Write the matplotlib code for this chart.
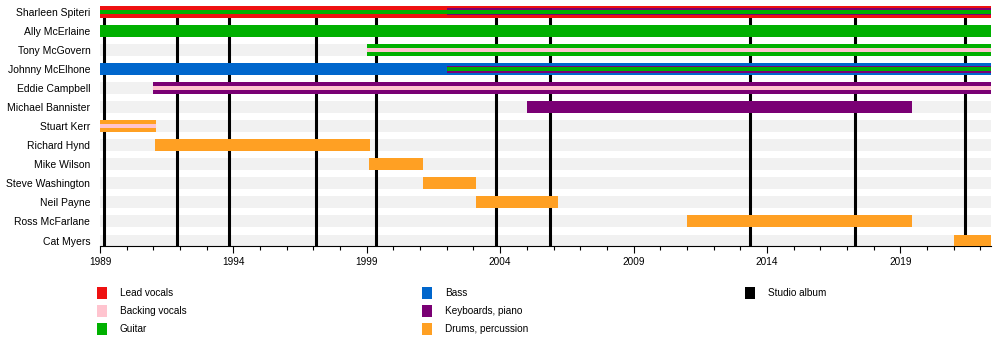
import matplotlib
matplotlib.use("Agg")
import matplotlib.pyplot as plt
from matplotlib.patches import Rectangle
from matplotlib.ticker import MultipleLocator

plt.rcParams['font.family'] = ['Liberation Sans', 'DejaVu Sans']

# band members, top to bottom
members = ["Sharleen Spiteri", "Ally McErlaine", "Tony McGovern", "Johnny McElhone",
           "Eddie Campbell", "Michael Bannister", "Stuart Kerr", "Richard Hynd",
           "Mike Wilson", "Steve Washington", "Neil Payne", "Ross McFarlane", "Cat Myers"]

start_year = 1989
end_year = 2022.4

# (member, role, start, end); first role of a member is the full-width bar
periods = [
    ("Sharleen Spiteri", "Lead vocals", 1989, end_year),
    ("Sharleen Spiteri", "Keyboards, piano", 2002.0, end_year),
    ("Sharleen Spiteri", "Guitar", 1989, end_year),
    ("Ally McErlaine", "Guitar", 1989, end_year),
    ("Tony McGovern", "Guitar", 1999.0, end_year),
    ("Tony McGovern", "Backing vocals", 1999.0, end_year),
    ("Johnny McElhone", "Bass", 1989, end_year),
    ("Johnny McElhone", "Keyboards, piano", 2002.0, end_year),
    ("Johnny McElhone", "Guitar", 2002.0, end_year),
    ("Eddie Campbell", "Keyboards, piano", 1991.0, end_year),
    ("Eddie Campbell", "Backing vocals", 1991.0, end_year),
    ("Michael Bannister", "Keyboards, piano", 2005.0, 2019.45),
    ("Stuart Kerr", "Drums, percussion", 1989, 1991.1),
    ("Stuart Kerr", "Backing vocals", 1989, 1991.1),
    ("Richard Hynd", "Drums, percussion", 1991.05, 1999.12),
    ("Mike Wilson", "Drums, percussion", 1999.1, 2001.1),
    ("Steve Washington", "Drums, percussion", 2001.1, 2003.1),
    ("Neil Payne", "Drums, percussion", 2003.1, 2006.15),
    ("Ross McFarlane", "Drums, percussion", 2011.0, 2019.45),
    ("Cat Myers", "Drums, percussion", 2021.0, end_year),
]

# studio album release dates
albums = [1989.15, 1991.88, 1993.84, 1997.08, 1999.35, 2003.85, 2005.85,
          2013.38, 2017.3, 2021.42]

role_colors = {
    "Lead vocals": "#ee1111",
    "Backing vocals": "#ffc4cf",
    "Guitar": "#00b000",
    "Bass": "#0066cc",
    "Keyboards, piano": "#7a0074",
    "Drums, percussion": "#ffa023",
    "Studio album": "#000000",
}

row_px = 19.08
full_h = 12.0 / row_px
mid_h = 7.0 / row_px
thin_h = 4.0 / row_px

fig = plt.figure(figsize=(10, 3.45), dpi=100)
ax = fig.add_axes([0.100, 99 / 345, 0.891, 242 / 345])

ypos = {m: i for i, m in enumerate(members)}
y_bottom = 12 + 5.5 / row_px

# light grey background rows
for m in members:
    ax.barh(ypos[m], end_year - start_year, left=start_year, height=full_h,
            color="#f1f1f1", zorder=1, linewidth=0)

ax.vlines(albums, 0, y_bottom, color="black", linewidth=2.2, zorder=2)

first_role = {}
for m, role, s, e in periods:
    if m not in first_role:
        first_role[m] = role
    if role == first_role[m]:
        h, z = full_h, 3
    elif role == "Keyboards, piano":
        h, z = mid_h, 4
    else:
        h, z = thin_h, 5
    ax.barh(ypos[m], e - s, left=s, height=h, color=role_colors[role],
            zorder=z, linewidth=0)

ax.set_xlim(start_year, end_year)
ax.set_ylim(y_bottom, -8 / row_px)
ax.set_yticks(range(len(members)))
ax.set_yticklabels(members, fontsize=7.5)
ax.tick_params(axis="y", length=0, pad=7)
ax.xaxis.set_minor_locator(MultipleLocator(1))
ax.set_xticks(range(1989, 2023, 5))
ax.tick_params(axis="x", which="major", length=5, width=0.8, labelsize=7.2, pad=3)
ax.tick_params(axis="x", which="minor", length=3, width=0.8)
for side in ["top", "right", "left"]:
    ax.spines[side].set_visible(False)
ax.spines["bottom"].set_linewidth(0.8)

# legend in three columns
legend_cols = [
    (["Lead vocals", "Backing vocals", "Guitar"], 97),
    (["Bass", "Keyboards, piano", "Drums, percussion"], 422),
    (["Studio album"], 745),
]
row_y = [293, 311, 329]
for names, x0 in legend_cols:
    for k, name in enumerate(names):
        yc = row_y[k]
        fig.add_artist(Rectangle((x0 / 1000, (345 - yc - 6) / 345), 10 / 1000, 12 / 345,
                                 transform=fig.transFigure, color=role_colors[name],
                                 linewidth=0))
        fig.text((x0 + 23) / 1000, (345 - yc) / 345, name, fontsize=7.2, va="center")

fig.savefig("out.png", dpi=100)
